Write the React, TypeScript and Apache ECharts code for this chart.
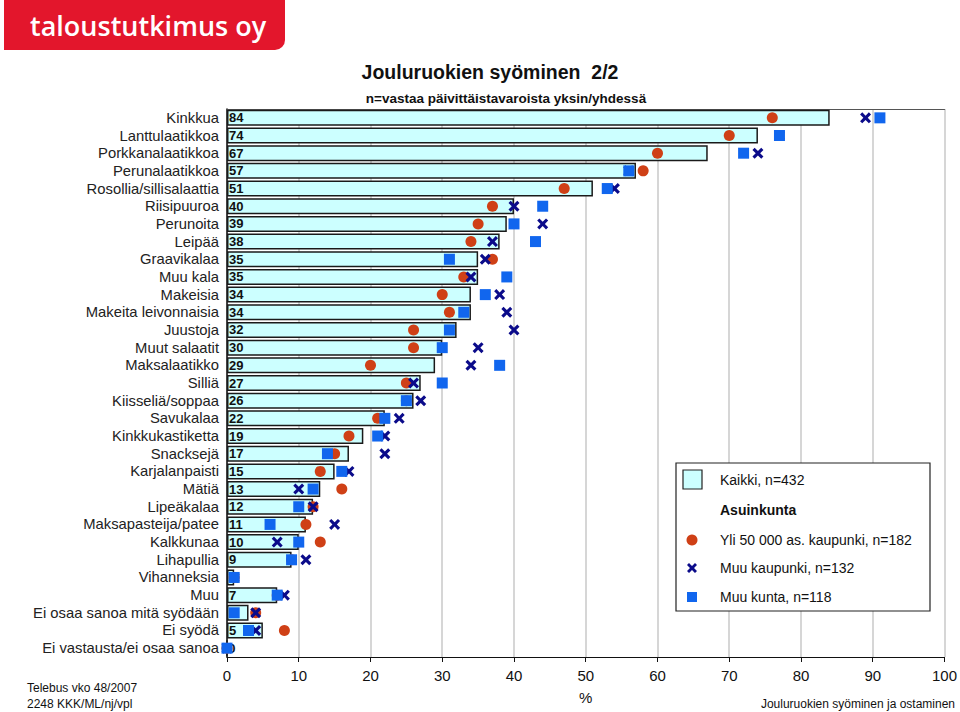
import React, { useEffect, useRef } from "react";
import * as echarts from "echarts";

const categories = [
  "Kinkkua", "Lanttulaatikkoa", "Porkkanalaatikkoa", "Perunalaatikkoa", "Rosollia/sillisalaattia",
  "Riisipuuroa", "Perunoita", "Leipää", "Graavikalaa", "Muu kala", "Makeisia", "Makeita leivonnaisia",
  "Juustoja", "Muut salaatit", "Maksalaatikko", "Silliä", "Kiisseliä/soppaa", "Savukalaa",
  "Kinkkukastiketta", "Snacksejä", "Karjalanpaisti", "Mätiä", "Lipeäkalaa", "Maksapasteija/patee",
  "Kalkkunaa", "Lihapullia", "Vihanneksia", "Muu", "Ei osaa sanoa mitä syödään", "Ei syödä",
  "Ei vastausta/ei osaa sanoa",
];

const kaikki = [84, 74, 67, 57, 51, 40, 39, 38, 35, 35, 34, 34, 32, 30, 29, 27, 26, 22, 19, 17, 15, 13, 12, 11, 10, 9, 1, 7, 3, 5, 0];
const yli50000 = [76, 70, 60, 58, 47, 37, 35, 34, 37, 33, 30, 31, 26, 26, 20, 25, 25, 21, 17, 15, 13, 16, 12, 11, 13, 9, 1, 7, 4, 8, 0];
const muuKaupunki = [89, 77, 74, 56, 54, 40, 44, 37, 36, 34, 38, 39, 40, 35, 34, 26, 27, 24, 22, 22, 17, 10, 12, 15, 7, 11, 1, 8, 4, 4, 0];
const muuKunta = [91, 77, 72, 56, 53, 44, 40, 43, 31, 39, 36, 33, 31, 30, 38, 30, 25, 22, 21, 14, 16, 12, 10, 6, 10, 9, 1, 7, 1, 3, 0];

const xTicks = { min: 0, max: 100, interval: 10 };

const legendLabels = ["Kaikki, n=432", "Asuinkunta", "Yli 50 000 as. kaupunki, n=182", "Muu kaupunki, n=132", "Muu kunta, n=118"];

const CYAN = "#CCFFFF";
const RED = "#CF4016";
const NAVY = "#0B0B8A";
const BLUE = "#1166EE";
const X_PATH = "path://M0,2 L2,0 L5,3 L8,0 L10,2 L7,5 L10,8 L8,10 L5,7 L2,10 L0,8 L3,5 Z";
const FONT = "Arial, 'Liberation Sans', Helvetica, sans-serif";
const NARROW = "'Liberation Sans Narrow', 'Arial Narrow', Arial, 'Liberation Sans', sans-serif";

function pts(vals: number[]) {
  return vals.map((v, i) => [v, categories[i]]);
}

export default function App() {
  const ref = useRef<HTMLDivElement>(null);
  useEffect(() => {
    if (!ref.current) return;
    const chart = echarts.init(ref.current, undefined, { renderer: "svg" });
    const lx = 692;
    const option: any = {
      animation: false,
      backgroundColor: "#ffffff",
      textStyle: { fontFamily: FONT },
      grid: { left: 227, right: 14, top: 109, bottom: 55, containLabel: false },
      xAxis: [
        {
          type: "value",
          min: xTicks.min,
          max: xTicks.max,
          interval: xTicks.interval,
          position: "bottom",
          name: "%",
          nameLocation: "middle",
          nameGap: 33,
          nameTextStyle: { fontSize: 15, color: "#111", fontFamily: NARROW },
          axisLine: { show: true, lineStyle: { color: "#111", width: 1.2 } },
          axisTick: { show: true, length: 5, lineStyle: { color: "#111" } },
          axisLabel: { fontSize: 15, color: "#111", margin: 11, fontFamily: NARROW },
          splitLine: { show: true, lineStyle: { color: "#C8C8C8", width: 1.5 } },
        },
        {
          type: "value",
          min: xTicks.min,
          max: xTicks.max,
          interval: xTicks.interval,
          position: "top",
          axisLine: { show: true, lineStyle: { color: "#555", width: 1.2 } },
          axisTick: { show: false },
          axisLabel: { show: false },
          splitLine: { show: false },
        },
      ],
      yAxis: {
        type: "category",
        data: categories,
        inverse: true,
        axisLine: { show: true, lineStyle: { color: "#111", width: 1.5 } },
        axisTick: { show: false },
        axisLabel: { interval: 0, fontSize: 14.8, color: "#222", margin: 8, fontFamily: FONT },
        splitLine: { show: false },
      },
      series: [
        {
          name: "Kaikki, n=432",
          type: "bar",
          data: kaikki,
          barWidth: 16,
          itemStyle: { color: CYAN, borderColor: "#1a1a1a", borderWidth: 1.5 },
          label: {
            show: true,
            position: "insideLeft",
            distance: 2,
            formatter: "{c}",
            fontSize: 13,
            fontWeight: "bold",
            color: "#111",
            fontFamily: FONT,
          },
          z: 2,
        },
        {
          name: "Yli 50 000 as. kaupunki, n=182",
          type: "scatter",
          data: pts(yli50000),
          symbol: "circle",
          symbolSize: 11,
          itemStyle: { color: RED, opacity: 1 },
          z: 3,
        },
        {
          name: "Muu kaupunki, n=132",
          type: "scatter",
          data: pts(muuKaupunki),
          symbol: X_PATH,
          symbolSize: 11,
          itemStyle: { color: NAVY, opacity: 1 },
          z: 4,
        },
        {
          name: "Muu kunta, n=118",
          type: "scatter",
          data: pts(muuKunta),
          symbol: "rect",
          symbolSize: 11,
          itemStyle: { color: BLUE, opacity: 1 },
          z: 5,
        },
      ],
      graphic: [
        {
          type: "rect",
          shape: { x: 4, y: 0, width: 281, height: 50, r: [0, 0, 10, 0] },
          style: { fill: "#E3162C" },
        },
        {
          type: "text",
          x: 30,
          y: 25,
          style: {
            text: "taloustutkimus oy",
            fill: "#ffffff",
            font: "600 27px 'Open Sans', Arial, sans-serif",
            verticalAlign: "middle",
            align: "left",
          },
        },
        {
          type: "text",
          x: 490,
          y: 72,
          style: { text: "Jouluruokien syöminen  2/2", fill: "#111", font: `bold 19.5px ${FONT}`, align: "center", verticalAlign: "middle" },
        },
        {
          type: "text",
          x: 506,
          y: 98,
          style: { text: "n=vastaa päivittäistavaroista yksin/yhdessä", fill: "#111", font: `bold 13.5px ${FONT}`, align: "center", verticalAlign: "middle" },
        },
        // legend box
        {
          type: "rect",
          shape: { x: 676, y: 463, width: 254, height: 148 },
          style: { fill: "#ffffff", stroke: "#222", lineWidth: 1.2 },
          z: 10,
        },
        {
          type: "rect",
          shape: { x: 683, y: 470, width: 19, height: 19 },
          style: { fill: CYAN, stroke: "#222", lineWidth: 1.2 },
          z: 11,
        },
        {
          type: "circle",
          shape: { cx: lx, cy: 540, r: 5.5 },
          style: { fill: RED },
          z: 11,
        },
        {
          type: "polygon",
          shape: {
            points: [
              [lx - 5, 568 - 3], [lx - 3, 568 - 5], [lx, 568 - 2], [lx + 3, 568 - 5], [lx + 5, 568 - 3], [lx + 2, 568],
              [lx + 5, 568 + 3], [lx + 3, 568 + 5], [lx, 568 + 2], [lx - 3, 568 + 5], [lx - 5, 568 + 3], [lx - 2, 568],
            ],
          },
          style: { fill: NAVY },
          z: 11,
        },
        {
          type: "rect",
          shape: { x: lx - 5, y: 597 - 5, width: 10, height: 10 },
          style: { fill: BLUE },
          z: 11,
        },
        ...legendLabels.map((t, i) => ({
          type: "text",
          x: 720,
          y: [480, 510, 540, 568, 597][i],
          style: {
            text: t,
            fill: "#111",
            font: `${i === 1 ? "bold " : ""}14px ${FONT}`,
            verticalAlign: "middle",
            align: "left",
          },
          z: 11,
        })),
        {
          type: "text",
          x: 27,
          y: 688,
          style: { text: "Telebus vko 48/2007", fill: "#111", font: `12px ${NARROW}`, verticalAlign: "middle" },
        },
        {
          type: "text",
          x: 27,
          y: 704,
          style: { text: "2248 KKK/ML/nj/vpl", fill: "#111", font: `12px ${NARROW}`, verticalAlign: "middle" },
        },
        {
          type: "text",
          x: 955,
          y: 704,
          style: { text: "Jouluruokien syöminen ja ostaminen", fill: "#111", font: `12px ${NARROW}`, verticalAlign: "middle", align: "right" },
        },
      ],
    };
    chart.setOption(option);
    return () => chart.dispose();
  }, []);
  return <div ref={ref} style={{ position: "fixed", left: 0, top: 0, width: 960, height: 712 }} />;
}
